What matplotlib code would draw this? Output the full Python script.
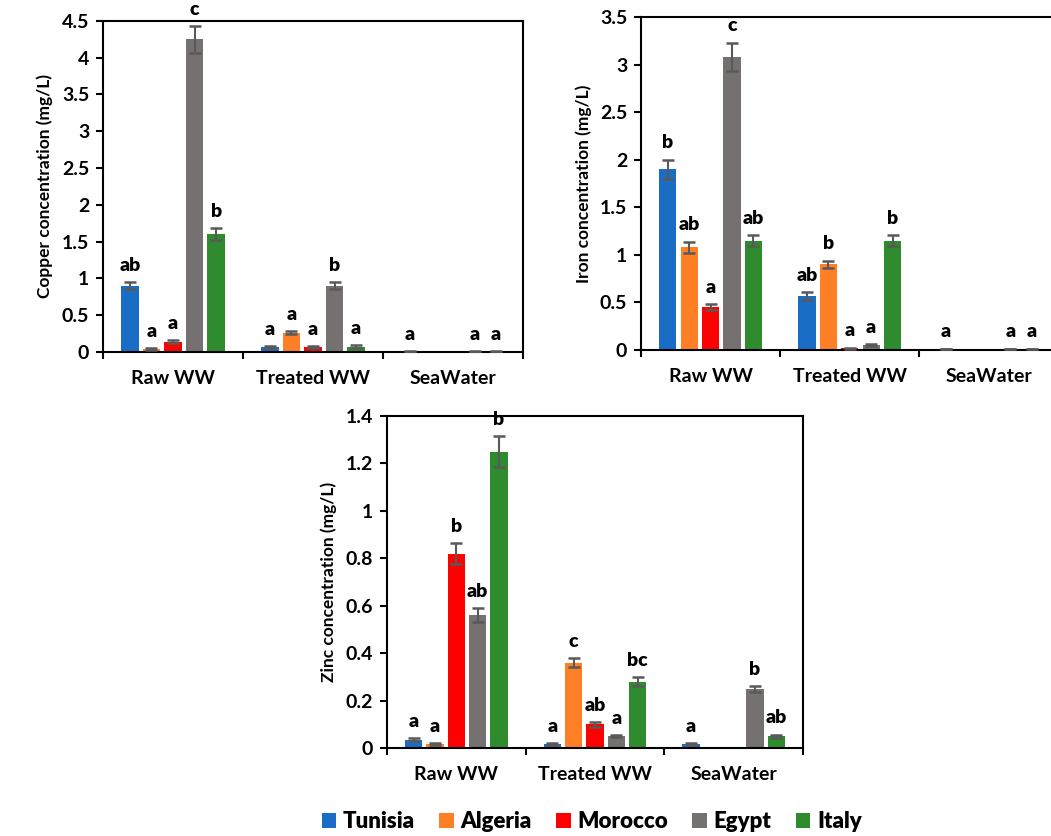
import numpy as np
import matplotlib
matplotlib.use('Agg')
import matplotlib.pyplot as plt
from matplotlib.patches import Patch

plt.rcParams['font.family'] = ['Lato', 'DejaVu Sans']

sites = ['Raw WW', 'Treated WW', 'SeaWater']
countries = ['Tunisia', 'Algeria', 'Morocco', 'Egypt', 'Italy']
colors = ['#1A6DC4', '#FF7F27', '#FF0000', '#767171', '#2E8B2E']

# rows = countries, columns = sites
copper = [[0.90, 0.07, 0.005],
          [0.04, 0.26, 0.0],
          [0.14, 0.07, 0.0],
          [4.25, 0.90, 0.005],
          [1.60, 0.07, 0.005]]
copper_err = [[0.05, 0.01, 0.003],
              [0.01, 0.02, 0.0],
              [0.02, 0.01, 0.0],
              [0.18, 0.05, 0.003],
              [0.08, 0.02, 0.003]]
copper_letters = [['ab', 'a', 'a'],
                  ['a', 'a', ''],
                  ['a', 'a', ''],
                  ['c', 'b', 'a'],
                  ['b', 'a', 'a']]

iron = [[1.90, 0.57, 0.01],
        [1.08, 0.90, 0.0],
        [0.45, 0.02, 0.0],
        [3.08, 0.05, 0.01],
        [1.15, 1.15, 0.01]]
iron_err = [[0.10, 0.04, 0.003],
            [0.06, 0.04, 0.0],
            [0.03, 0.005, 0.0],
            [0.15, 0.01, 0.003],
            [0.06, 0.06, 0.003]]
iron_letters = [['b', 'ab', 'a'],
                ['ab', 'b', ''],
                ['a', 'a', ''],
                ['c', 'a', 'a'],
                ['ab', 'b', 'a']]

zinc = [[0.035, 0.015, 0.015],
        [0.015, 0.36, 0.0],
        [0.82, 0.10, 0.0],
        [0.56, 0.05, 0.25],
        [1.25, 0.28, 0.05]]
zinc_err = [[0.005, 0.004, 0.004],
            [0.004, 0.02, 0.0],
            [0.045, 0.01, 0.0],
            [0.03, 0.005, 0.012],
            [0.065, 0.02, 0.006]]
zinc_letters = [['a', 'a', 'a'],
                ['a', 'c', ''],
                ['b', 'ab', ''],
                ['ab', 'a', 'b'],
                ['b', 'bc', 'ab']]


def draw_panel(ax, values, errors, letters, ylabel, ymax, ystep):
    x = np.arange(len(sites)) + 0.5
    step = 0.154
    width = 0.124
    for i, country in enumerate(countries):
        pos = x + (i - 2) * step
        vals = np.array(values[i])
        errs = np.array(errors[i])
        ax.bar(pos, vals, width, color=colors[i], zorder=2)
        keep = errs > 0
        ax.errorbar(pos[keep], vals[keep], yerr=errs[keep], fmt='none',
                    ecolor='#595959', elinewidth=1.5, capsize=4.5,
                    capthick=1.8, zorder=3)
        for p, v, e, lab in zip(pos, vals, errs, letters[i]):
            if lab:
                ax.text(p, v + e + ymax * 0.025, lab, ha='center', va='bottom',
                        fontsize=14, fontweight='heavy')
    ax.set_xlim(0, 3)
    ax.set_ylim(0, ymax)
    ax.set_xticks(x)
    ax.set_xticklabels(sites, fontsize=14, fontweight='bold')
    ax.set_xticks([0, 1, 2, 3], minor=True)
    ax.tick_params(axis='x', which='major', length=0, pad=13)
    ax.tick_params(axis='x', which='minor', length=5, width=1.5, direction='out')
    yt = np.arange(0, ymax + ystep / 2, ystep)
    ax.set_yticks(yt)
    ax.set_yticklabels([f'{t:g}' for t in yt], fontsize=14, fontweight='bold')
    ax.tick_params(axis='y', length=5, width=1.5, direction='out', pad=5)
    ax.set_ylabel(ylabel, fontsize=12.5, fontweight='bold', labelpad=6)
    for s in ax.spines.values():
        s.set_linewidth(1.5)


fig = plt.figure(figsize=(10.51, 8.36), dpi=100)

ax1 = fig.add_axes([0.098, 0.579, 0.3996, 0.396])
draw_panel(ax1, copper, copper_err, copper_letters,
           'Copper concentration (mg/L)', 4.5, 0.5)

ax2 = fig.add_axes([0.610, 0.5813, 0.397, 0.3984])
draw_panel(ax2, iron, iron_err, iron_letters,
           'Iron concentration (mg/L)', 3.5, 0.5)

ax3 = fig.add_axes([0.3682, 0.1053, 0.3958, 0.3971])
draw_panel(ax3, zinc, zinc_err, zinc_letters,
           'Zinc concentration (mg/L)', 1.4, 0.2)

handles = [Patch(facecolor=c, label=n) for c, n in zip(colors, countries)]
fig.legend(handles=handles, loc='center', bbox_to_anchor=(0.563, 0.017),
           ncol=5, frameon=False, prop={'size': 16, 'weight': 'heavy'},
           handlelength=0.65, handleheight=0.65, handletextpad=0.3,
           columnspacing=1.1)

fig.savefig('out.png', dpi=100)
